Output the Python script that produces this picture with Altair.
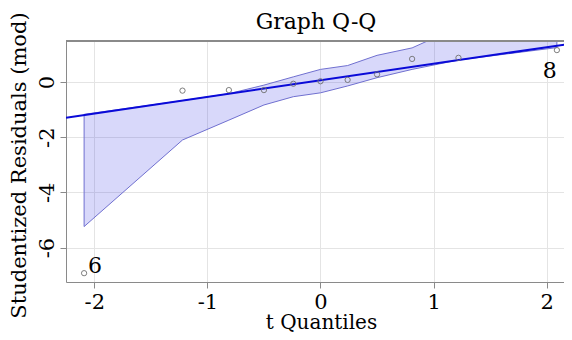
import altair as alt
import pandas as pd

# ---- data ----
q = [-2.09, -1.22, -0.81, -0.50, -0.24, 0.0, 0.24, 0.50, 0.81, 1.22, 2.09]
resid = [-6.93, -0.31, -0.29, -0.29, -0.06, 0.03, 0.08, 0.28, 0.84, 0.88, 1.16]
band_lower = [-5.24, -2.10, -1.38, -0.83, -0.53, -0.39, -0.14, 0.16, 0.46, 0.80, 1.25]
band_upper = [-1.17, -0.67, -0.42, -0.11, 0.19, 0.46, 0.60, 0.97, 1.24, 2.00, 3.00]
ref_x = [-2.25, 2.3]
ref_y = [-1.29, 1.445]
label_text = ["6", "8"]
label_q = [-2.09, 2.09]
label_r = [-6.93, 1.16]
x_ticks = [-2, -1, 0, 1, 2]
y_ticks = [-6, -4, -2, 0]
title_text = ["Graph Q-Q"]

pts = pd.DataFrame({"q": q, "r": resid, "lo": band_lower, "hi": band_upper})
ref = pd.DataFrame({"q": ref_x, "r": ref_y})
lab = pd.DataFrame({"q": label_q, "r": label_r, "t": label_text})
ttl = pd.DataFrame({"t": title_text})

FONT = "DejaVu Serif"
W, H = 498, 241
GRID = "#e4e4e4"
AXC = "#8a8a8a"

xs = alt.Scale(domain=[-2.25, 2.153], nice=False, zero=False)
ys = alt.Scale(domain=[-7.25, 1.49], nice=False, zero=False)

xaxis = alt.Axis(
    values=x_ticks, labelExpr="'' + datum.value", title="t Quantiles",
    grid=True, gridColor=GRID, domainColor=AXC, tickColor=AXC, tickSize=6,
    labelFont=FONT, labelFontSize=21, labelColor="black",
    labelBaseline="alphabetic", labelPadding=20, labelFlush=False,
    titleFont=FONT, titleFontSize=20, titleFontWeight="normal", titleColor="black",
    titleBaseline="alphabetic", titleAlign="center", titleX=255, titleY=46,
)
yaxis = alt.Axis(
    values=y_ticks, labelExpr="'' + datum.value", title="Studentized Residuals (mod)",
    grid=True, gridColor=GRID, domainColor=AXC, tickColor=AXC, tickSize=6,
    labelFont=FONT, labelFontSize=21, labelColor="black", labelAngle=270,
    labelAlign="center", labelBaseline="alphabetic", labelPadding=7, labelFlush=False,
    titleFont=FONT, titleFontSize=21, titleFontWeight="normal", titleColor="black",
    titleBaseline="alphabetic", titleAlign="center", titleAngle=270, titleX=-41, titleY=124,
)

band = alt.Chart(pts).mark_area(
    clip=True, fill="#3a3ae6", fillOpacity=0.2, stroke="#7070d0", strokeWidth=1
).encode(
    x=alt.X("q:Q", scale=xs, axis=xaxis),
    y=alt.Y("lo:Q", scale=ys, axis=yaxis),
    y2=alt.Y2("hi:Q"),
)

line = alt.Chart(ref).mark_line(clip=True, color="#0a0ad8", strokeWidth=2).encode(
    x=alt.X("q:Q", scale=xs), y=alt.Y("r:Q", scale=ys)
)

points = alt.Chart(pts).mark_point(
    shape="circle", size=28, filled=False, stroke="#707070", strokeWidth=0.9, opacity=1
).encode(x=alt.X("q:Q", scale=xs), y=alt.Y("r:Q", scale=ys))

lab6 = alt.Chart(lab).transform_filter("datum.t == '6'").mark_text(
    font=FONT, fontSize=22, color="black", align="left", baseline="alphabetic", dx=4, dy=0
).encode(x=alt.X("q:Q", scale=xs), y=alt.Y("r:Q", scale=ys), text="t:N")

lab8 = alt.Chart(lab).transform_filter("datum.t == '8'").mark_text(
    font=FONT, fontSize=22, color="black", align="center", baseline="alphabetic", dx=-7, dy=28
).encode(x=alt.X("q:Q", scale=xs), y=alt.Y("r:Q", scale=ys), text="t:N")

top = alt.Chart(pts).mark_rule(color=AXC, strokeWidth=1.5).encode(
    x=alt.value(0), x2=alt.value(W), y=alt.value(0)
)

title = alt.Chart(ttl).mark_text(
    font=FONT, fontSize=22, color="black", align="center", baseline="alphabetic"
).encode(x=alt.value(250), y=alt.value(-12), text="t:N")

chart = alt.layer(band, line, points, lab6, lab8, top, title).properties(
    width=W, height=H,
    autosize=alt.AutoSizeParams(type="none"),
    padding={"left": 58, "top": 33, "right": 0, "bottom": 50},
    background="white",
).configure_view(stroke=None)

chart.save("out.html", embed_options={"renderer": "svg", "actions": False})
